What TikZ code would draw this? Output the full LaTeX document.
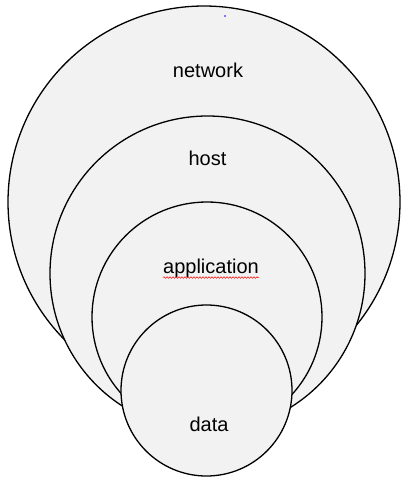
\documentclass[tikz,border=0pt]{standalone}
\usepackage{fontspec}
\setmainfont{Liberation Sans}
\usetikzlibrary{decorations.pathmorphing}
\definecolor{layergray}{HTML}{F2F2F2}
\tikzset{
  layer/.style={circle, draw=black, fill=layergray, line width=1.3pt, inner sep=0pt},
  lbl/.style={font=\fontsize{20}{24}\selectfont, inner sep=0pt}
}
\begin{document}
\begin{tikzpicture}[x=1pt, y=-1pt]
      \useasboundingbox (0,0) rectangle (400,477);
      \node[layer, minimum size=392pt] (net) at (204,202) {};
      \node[layer, minimum size=315pt] (host) at (207.5,273.5) {};
      \node[layer, minimum size=230pt] (app) at (207,317) {};
      \node[layer, minimum size=171pt] (data) at (206.5,390.5) {};
      \node[lbl] (tnet) at (208,70) {network};
      \node[lbl] (thost) at (207.5,158) {host};
      \node[lbl] (tapp) at (211,268) {application};
      \node[lbl] (tdata) at (209,424) {data};
      \draw [red, line width=0.5pt, decorate, decoration={snake, amplitude=0.8pt, segment length=3pt}]
        (tapp.south west) -- (tapp.south east);
      \fill [blue] (225,16) circle (0.9pt);
    \end{tikzpicture}
\end{document}
